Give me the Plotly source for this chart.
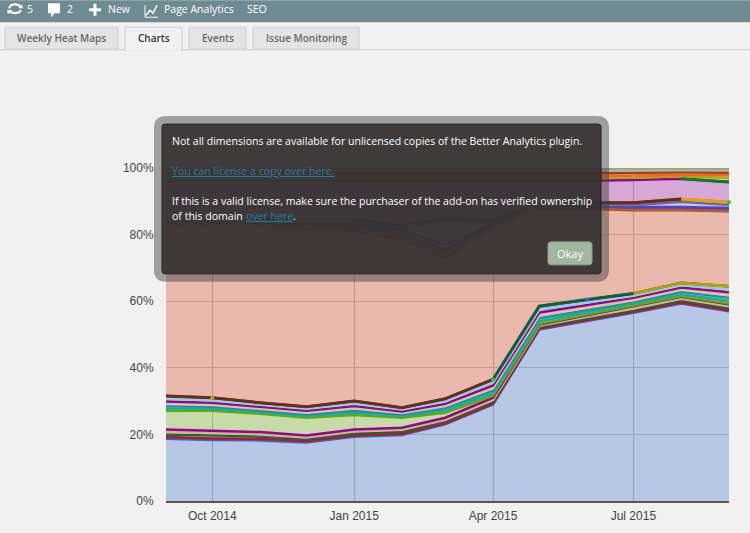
import plotly.graph_objects as go

# CONFIG
W, H = 750, 533
LEFT, RIGHT, TOP, BOTTOM = 166, 729, 168, 501.5

months = ["2014-09-01", "2014-10-01", "2014-11-01", "2014-12-01", "2015-01-01", "2015-02-01", "2015-03-01",
          "2015-04-01", "2015-05-01", "2015-06-01", "2015-07-01", "2015-08-01", "2015-09-01"]
tick_dates = ["2014-10-01", "2015-01-01", "2015-04-01", "2015-07-01"]
tick_names = ["Oct 2014", "Jan 2015", "Apr 2015", "Jul 2015"]
pct_ticks = [0, 20, 40, 60, 80, 100]
pct_names = ["0%", "20%", "40%", "60%", "80%", "100%"]

# stacked shares, bottom to top
direct = [18.7, 18.3, 18.2, 17.6, 19.3, 19.8, 23.0, 29.0, 51.5, 54.0, 56.5, 59.3, 57.0]
s_red = [.5, .5, .5, .4, .4, .4, .3, .3, .3, .3, .3, .3, .3]
s_green = [.8, .8, .7, .6, .6, .6, .6, .5, .4, .5, .5, .6, .6]
s_tan = [.7, .7, .6, .5, .6, .6, .5, .5, .4, .5, .5, .5, .6]
s_magenta = [.8, .8, .7, .6, .6, .6, .6, .7, .4, .5, .6, .6, .6]
referral = [5.6, 6.0, 5.5, 5.3, 4.3, 3.0, 1.5, .6, .2, .2, .2, .2, .2]
s_teal = [.7, .6, .5, .5, .7, .5, .7, .8, .8, .7, .6, .6, .8]
s_blue = [.7, .6, .5, .5, .7, .5, .7, .8, .9, .7, .6, .7, .9]
s_pale = [.6, .5, .5, .5, .6, .4, .6, .7, .8, .7, .5, .6, .8]
s_purple = [.8, .7, .6, .6, .7, .5, .7, .8, .9, .8, .7, .7, .9]
s_cyan = [.8, .7, .6, .6, .7, .6, .7, .9, .9, .8, .6, .7, .9]
s_dark = [.8, .8, .6, .6, .8, .5, .8, .9, 1.0, .8, .7, .7, .9]
organic = [51.1, 51.6, 52.8, 53.5, 51.0, 50.5, 42.3, 45.5, 29.5, 27.3, 25.0, 21.8, 22.5]
s_orange = [.4, .4, .4, .5, .6, .8, 1.2, .4, .4, .4, .4, .4, .4]
s_steel = [.4, .4, .5, .6, .8, 1.0, 1.2, .4, .3, .3, .3, .3, .3]
s_violet = [.4, .4, .5, .6, .8, 1.0, 1.5, .4, .3, .3, .3, .3, .3]
s_slate = [.2, .2, .3, .4, .6, .6, 7.3, .4, .1, .1, .5, 1.6, .9]
s_forest = [.6, .6, .6, .7, .8, .8, .8, .7, .6, .7, .8, .8, .8]
social = [11.4, 11.4, 11.4, 11.4, 11.4, 13.3, 11.0, 11.7, 6.3, 6.6, 6.8, 6.1, 6.1]
s_olive = [.8, .8, .8, .8, .8, .8, .8, .8, .8, .8, .7, .7, 1.2]
s_amber = [.7, .7, .7, .7, .7, .7, .7, .7, .7, .7, .6, .5, .8]
s_brick = [.9, .9, .9, .9, .9, .9, .9, .9, .9, .8, .8, .7, .8]
s_sky = [.8, .8, .8, .8, .8, .8, .8, .8, .7, .7, .7, .6, .7]
s_top = [.8, .8, .8, .8, .8, .8, .8, .8, .8, .8, .8, .7, .7]

# recoloured stretches of the bundle edges
edge_brown = [31.5, 31.0, 29.5, 28.3, 30.0, 28.0, 30.7, 36.5, None, None, None, None, None]
edge_green = [None, None, None, None, None, None, None, 36.5, 58.5, 60.5, 62.3, None, None]
edge_gold = [None, None, None, None, None, None, None, None, None, None, 62.3, 65.5, 64.5]
edge_maroon = [None, None, None, None, None, None, None, None, None, 89.6, 89.6, 90.7, None]
edge_bright = [None, None, None, None, None, None, None, None, None, None, None, 90.7, 89.7]
edge_low = [None, None, None, None, None, None, None, None, None, None, None, 96.8, 95.8]

# small point markers that show on the edges
dots_gold = [None, 31.0, None, None, None, None, None, None, None, None, 97.5, None, None]
dots_lime = [None, None, None, None, None, None, None, 36.5, None, None, None, None, 89.7]
dots_blue = [None, None, None, None, None, None, None, None, None, 60.5, None, None, None]

stack = [
    (direct, "#3366cc"), (s_red, "#c1121f"), (s_green, "#0f6b3a"), (s_tan, "#d9b38c"), (s_magenta, "#990099"),
    (referral, "#66aa00"), (s_teal, "#22aa99"), (s_blue, "#0099c6"), (s_pale, "#f0c27a"), (s_purple, "#990099"),
    (s_cyan, "#7fd8ea"), (s_dark, "#651067"), (organic, "#dc3912"), (s_orange, "#b8741a"), (s_steel, "#316395"),
    (s_violet, "#6633cc"), (s_slate, "#5574a6"), (s_forest, "#0f6b3a"), (social, "#990099"), (s_olive, "#aaaa11"),
    (s_amber, "#e67300"), (s_brick, "#b82e2e"), (s_sky, "#8fb4d0"), (s_top, "#aaaa11"),
]
edges = [(edge_brown, "#6d2f14"), (edge_green, "#1a5c34"), (edge_gold, "#b8a000"),
         (edge_maroon, "#7a2410"), (edge_bright, "#ff9900"), (edge_low, "#0f7a2f")]
dots = [(dots_gold, "#c9a000"), (dots_lime, "#22cc22"), (dots_blue, "#3366cc")]


def px(x):
    return (x - LEFT) / (RIGHT - LEFT)


def py(y):
    return (BOTTOM - y) / (BOTTOM - TOP)


def rgba(hex_color, alpha):
    r, g, b = int(hex_color[1:3], 16), int(hex_color[3:5], 16), int(hex_color[5:7], 16)
    return "rgba({},{},{},{})".format(r, g, b, alpha)


def rect(x0, y0, x1, y1, fill, line=None, width=1):
    return dict(type="rect", xref="paper", yref="paper", x0=px(x0), x1=px(x1), y0=py(y0), y1=py(y1),
                fillcolor=fill, line=dict(color=line or "rgba(0,0,0,0)", width=width if line else 0), layer="above")


def path(points, fill=None, line=None, width=1, close=True):
    d = "M " + " L ".join("{:.5f},{:.5f}".format(px(x), py(y)) for x, y in points)
    if close:
        d += " Z"
    return dict(type="path", xref="paper", yref="paper", path=d, fillcolor=fill or "rgba(0,0,0,0)",
                line=dict(color=line or "rgba(0,0,0,0)", width=width if line else 0), layer="above")


def rounded(x0, y0, x1, y1, r, fill, line=None, width=1):
    # svg arcs do not survive the paper scale, so corners are short Q curves
    c = lambda x, y: "{:.5f},{:.5f}".format(px(x), py(y))
    d = ("M " + c(x0 + r, y0) + " L " + c(x1 - r, y0) + " Q " + c(x1, y0) + " " + c(x1, y0 + r)
         + " L " + c(x1, y1 - r) + " Q " + c(x1, y1) + " " + c(x1 - r, y1)
         + " L " + c(x0 + r, y1) + " Q " + c(x0, y1) + " " + c(x0, y1 - r)
         + " L " + c(x0, y0 + r) + " Q " + c(x0, y0) + " " + c(x0 + r, y0) + " Z")
    return dict(type="path", xref="paper", yref="paper", path=d, fillcolor=fill,
                line=dict(color=line or "rgba(0,0,0,0)", width=width if line else 0), layer="above")


def label(x, y, text, size=10.55, color="#ffffff", anchor="left", weight=400, under=False):
    font = dict(family="Open Sans", size=size, color=color, weight=weight)
    if under:
        font["lineposition"] = "under"
    return dict(xref="paper", yref="paper", x=px(x), y=py(y), text=text, showarrow=False, xanchor=anchor,
                yanchor="middle", font=font, borderpad=0, borderwidth=0)


fig = go.Figure()

for values, color in stack:
    fig.add_trace(go.Scatter(x=months, y=values, mode="lines", stackgroup="one", fillcolor=rgba(color, 0.3),
                             line=dict(color=color, width=2.5), showlegend=False, hoverinfo="skip"))

for values, color in edges:
    fig.add_trace(go.Scatter(x=months, y=values, mode="lines", line=dict(color=color, width=3),
                             showlegend=False, hoverinfo="skip"))

for values, color in dots:
    fig.add_trace(go.Scatter(x=months, y=values, mode="markers", marker=dict(color=color, size=4),
                             showlegend=False, hoverinfo="skip", cliponaxis=False))

shapes = [
    # admin bar
    rect(0, 0, W, 22, "#6f8a92"),
    # reload icon
    path([(9, 8), (11, 5), (15, 4), (19, 5), (21, 7)], line="#ffffff", width=2.2, close=False),
    path([(21, 10), (19, 12), (15, 13), (11, 12), (9, 10)], line="#ffffff", width=2.2, close=False),
    path([(18, 8), (23, 8), (22, 4)], fill="#ffffff"),
    path([(12, 10), (7, 10), (8, 14)], fill="#ffffff"),
    # comment icon
    rect(48, 3, 60, 13, "#ffffff"),
    path([(51, 13), (55, 13), (51, 17)], fill="#ffffff"),
    # plus icon
    rect(89, 8, 101, 11, "#ffffff"),
    rect(93.5, 3.5, 96.5, 15.5, "#ffffff"),
    # analytics icon
    path([(145, 5), (145, 17), (158, 17)], line="#ffffff", width=1, close=False),
    path([(146, 15), (150, 10), (153, 13), (157, 5)], line="#ffffff", width=1.5, close=False),
    # tabs
    path([(0, 49.5), (W, 49.5)], line="#cccccc", width=1, close=False),
    rect(5, 27, 118, 49, "#e4e4e4", "#cfcfcf"),
    rect(125, 27, 182, 50, "#f1f1f1", "#cfcfcf"),
    rect(126, 48.5, 181, 50.5, "#f1f1f1"),
    rect(189, 27, 246, 49, "#e4e4e4", "#cfcfcf"),
    rect(253, 27, 359, 49, "#e4e4e4", "#cfcfcf"),
    # licence dialog
    rounded(154, 116, 609, 282, 12, "rgba(60,60,60,0.45)"),
    rounded(162, 124, 601, 274, 3, "rgba(55,50,50,0.92)", "#222222", 1),
    rounded(548, 242, 592, 265, 3, "#a1b79f", "#8fa78d", 1),
]

annotations = [
    label(27, 9, "5", 10.5),
    label(67, 9, "2", 10.5),
    label(108, 9, "New", 10.5),
    label(164, 9, "Page Analytics", 10.5),
    label(247, 9, "SEO", 10.5),
    label(61.5, 37.5, "Weekly Heat Maps", 10, "#666666", "center", 600),
    label(153.5, 37.5, "Charts", 10, "#333333", "center", 600),
    label(217.5, 37.5, "Events", 10, "#666666", "center", 600),
    label(306, 37.5, "Issue Monitoring", 10, "#666666", "center", 600),
    label(172, 141, "Not all dimensions are available for unlicensed copies of the Better Analytics plugin."),
    label(172, 171, "You can license a copy over here.", color="#1f7ea5", under=True),
    label(172, 201, "If this is a valid license, make sure the purchaser of the add-on has verified ownership"),
    label(172, 216, "of this domain"),
    label(246, 216, "over here", color="#1f7ea5", under=True),
    label(293, 216, "."),
    label(570, 253.5, "Okay", 11, "#ffffff", "center"),
]

fig.update_layout(
    width=W,
    height=H,
    margin=dict(l=LEFT, r=W - RIGHT, t=TOP, b=H - BOTTOM, pad=0, autoexpand=False),
    paper_bgcolor="#f1f1f1",
    plot_bgcolor="#f1f1f1",
    showlegend=False,
    shapes=shapes,
    annotations=annotations,
    xaxis=dict(type="date", range=[months[0], months[-1]], tickvals=tick_dates, ticktext=tick_names,
               showgrid=True, gridcolor="#b9b9b9", gridwidth=1, ticks="outside", ticklen=3, tickcolor="rgba(0,0,0,0)",
               tickfont=dict(family="Liberation Sans", size=12, color="#444444"),
               showline=True, linecolor="#555555", linewidth=1.5, zeroline=False),
    yaxis=dict(range=[0, 100], tickvals=pct_ticks, ticktext=pct_names, showgrid=True, gridcolor="#c4c4c4", gridwidth=1,
               ticks="outside", ticklen=9, tickcolor="rgba(0,0,0,0)",
               tickfont=dict(family="Liberation Sans", size=12, color="#444444"), zeroline=False),
)

fig.write_html("out.html", config=dict(displayModeBar=False),
               post_script="document.body.style.margin='0';document.body.style.overflow='hidden';")
